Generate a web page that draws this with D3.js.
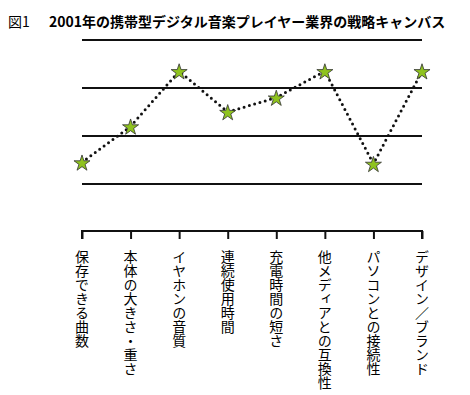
<!DOCTYPE html>
<html>
<head>
<meta charset="utf-8">
<script src="https://cdn.jsdelivr.net/npm/d3@7"></script>
<style>
  body { margin: 0; background: #fff; }
  svg { font-family: "Noto Sans CJK JP", sans-serif; }
</style>
</head>
<body>
<div id="chart"></div>
<script>
// data
var figLabel = "図1";
var title = "2001年の携帯型デジタル音楽プレイヤー業界の戦略キャンバス";
var factors = ["保存できる曲数", "本体の大きさ・重さ", "イヤホンの音質", "連続使用時間",
               "充電時間の短さ", "他メディアとの互換性", "パソコンとの接続性", "デザイン／ブランド"];
var scores = [0.45, 1.2, 2.35, 1.5, 1.8, 2.35, 0.42, 2.35];
var levels = [0, 1, 2, 3];

var width = 470, height = 395;

var svg = d3.select("#chart")
  .append("svg")
    .attr("width", width)
    .attr("height", height);

svg.append("text")
  .attr("x", 8)
  .attr("y", 27)
  .attr("font-size", 14)
  .text(figLabel);

svg.append("text")
  .attr("x", 49)
  .attr("y", 27)
  .attr("font-size", 14)
  .attr("font-weight", "bold")
  .text(title);

var x = d3.scalePoint()
  .domain(factors)
  .range([82, 422]);

var y = d3.scaleLinear()
  .domain([0, 3])
  .range([184, 40]);

// horizontal level lines
svg.selectAll(".level")
  .data(levels)
  .enter()
  .append("line")
    .attr("x1", 82)
    .attr("x2", 422)
    .attr("y1", function(d) { return y(d); })
    .attr("y2", function(d) { return y(d); })
    .attr("stroke", "#111")
    .attr("stroke-width", 2);

// dotted value curve
var line = d3.line()
  .x(function(d, i) { return x(factors[i]); })
  .y(function(d) { return y(d); });

svg.append("path")
  .datum(scores)
  .attr("d", line)
  .attr("fill", "none")
  .attr("stroke", "#111")
  .attr("stroke-width", 3)
  .attr("stroke-linecap", "round")
  .attr("stroke-dasharray", "0,5.5");

// stars
var star = d3.symbol().type(d3.symbolStar).size(80);
svg.selectAll(".star")
  .data(scores)
  .enter()
  .append("path")
    .attr("d", star)
    .attr("transform", function(d, i) { return "translate(" + x(factors[i]) + "," + (y(d) + 1) + ")"; })
    .attr("fill", "#8fc31f")
    .attr("stroke", "#333")
    .attr("stroke-width", 0.8);

// bottom axis
var axis = svg.append("g")
  .attr("transform", "translate(0,231)")
  .call(d3.axisBottom(x).tickSize(8).tickFormat(""));
axis.select(".domain")
  .attr("d", "M82,8V0H422V8")
  .attr("stroke", "#111")
  .attr("stroke-width", 2);
axis.selectAll(".tick line")
  .attr("stroke", "#111")
  .attr("stroke-width", 2);

// vertical labels
svg.selectAll(".factor")
  .data(factors)
  .enter()
  .append("text")
    .attr("x", function(d) { return x(d); })
    .attr("y", 250)
    .attr("font-size", 14)
    .style("writing-mode", "vertical-rl")
    .style("text-orientation", "upright")
    .text(function(d) { return d; });
</script>
</body>
</html>
